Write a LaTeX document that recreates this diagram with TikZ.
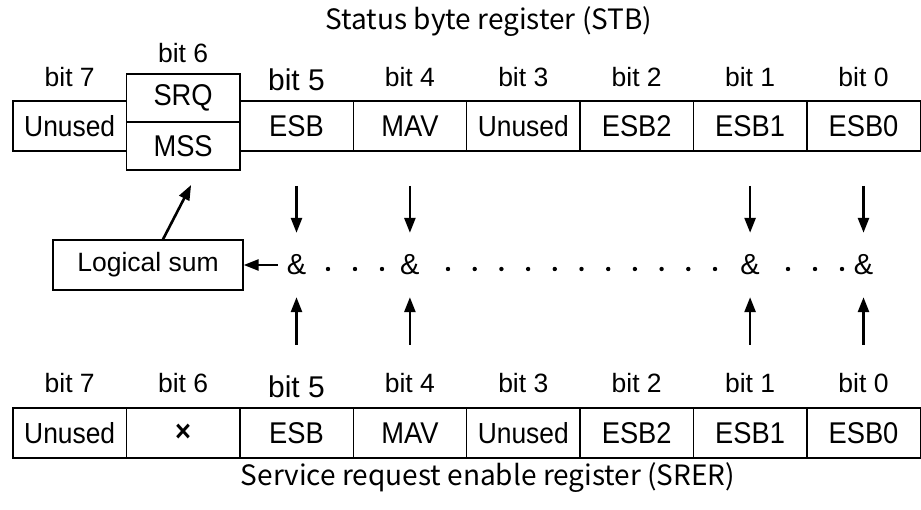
\documentclass[tikz,border=0pt]{standalone}
\usepackage{fontspec}
\setmainfont{Liberation Sans}
\newfontfamily\cellfont[FakeStretch=0.91]{Liberation Sans}
\newfontfamily\titlefont{Noto Sans CJK JP}
\usetikzlibrary{arrows.meta,positioning,calc}

\begin{document}
\begin{tikzpicture}[
  x=1pt, y=-1pt,
  font=\fontsize{26}{30}\selectfont,
  node distance=0pt,
  cell/.style={draw, line width=1.4pt, outer sep=0pt, inner sep=0pt, minimum width=113.4pt, minimum height=50pt, font=\cellfont\fontsize{30}{34}\selectfont},
  half/.style={cell, minimum height=48pt},
  sumbox/.style={draw, line width=1.4pt, inner sep=0pt, minimum width=190pt, minimum height=50pt, font=\fontsize{26.5}{30}\selectfont},
  bitlbl/.style={inner sep=0pt, font=\fontsize{26.5}{30}\selectfont},
  bigbit/.style={bitlbl, font=\fontsize{30}{34}\selectfont},
  amp/.style={inner xsep=9pt, inner ysep=0pt, minimum height=64pt, font=\fontsize{29}{32}\selectfont},
  arr/.style={line width=2.6pt, -{Triangle[length=15pt,width=11pt]}},
  title/.style={inner sep=0pt, font=\titlefont\fontsize{28}{32}\selectfont}
]
  \useasboundingbox (0,0) rectangle (921,510);

  % status byte register
  \node[title] (stbt) at (489,22) {Status byte register (STB)};
  \node[cell] (t7) at (69.7,126) {\fontsize{29}{34}\selectfont Unused};
  \node[half, anchor=south west] (srq) at ([yshift=4pt]t7.east) {SRQ};
  \node[half, anchor=north west] (mss) at (srq.south west) {MSS};
  \node[cell, anchor=west] (t5) at (t7.east -| srq.east) {ESB};
  \node[cell, right=of t5] (t4) {MAV};
  \node[cell, right=of t4] (t3) {\fontsize{29}{34}\selectfont Unused};
  \node[cell, right=of t3] (t2) {ESB2};
  \node[cell, right=of t2] (t1) {ESB1};
  \node[cell, right=of t1] (t0) {ESB0};

  \node[bitlbl] (tb7) at ([yshift=24pt]t7.north) {bit 7};
  \node[bitlbl] (tb6) at ([yshift=21pt]srq.north) {bit 6};
  \node[bigbit] (tb5) at ([yshift=21pt]t5.north) {bit 5};
  \node[bitlbl] (tb4) at ([yshift=24pt]t4.north) {bit 4};
  \node[bitlbl] (tb3) at ([yshift=24pt]t3.north) {bit 3};
  \node[bitlbl] (tb2) at ([yshift=24pt]t2.north) {bit 2};
  \node[bitlbl] (tb1) at ([yshift=24pt]t1.north) {bit 1};
  \node[bitlbl] (tb0) at ([yshift=24pt]t0.north) {bit 0};

  % service request enable register
  \node[cell] (r7) at (69.7,433) {\fontsize{29}{34}\selectfont Unused};
  \node[cell, right=of r7] (r6) {\bfseries ×};
  \node[cell, right=of r6] (r5) {ESB};
  \node[cell, right=of r5] (r4) {MAV};
  \node[cell, right=of r4] (r3) {\fontsize{29}{34}\selectfont Unused};
  \node[cell, right=of r3] (r2) {ESB2};
  \node[cell, right=of r2] (r1) {ESB1};
  \node[cell, right=of r1] (r0) {ESB0};
  \node[title] (srert) at (488,478) {Service request enable register (SRER)};

  \node[bitlbl] (rb7) at ([yshift=25pt]r7.north) {bit 7};
  \node[bitlbl] (rb6) at ([yshift=25pt]r6.north) {bit 6};
  \node[bigbit] (rb5) at ([yshift=21pt]r5.north) {bit 5};
  \node[bitlbl] (rb4) at ([yshift=25pt]r4.north) {bit 4};
  \node[bitlbl] (rb3) at ([yshift=25pt]r3.north) {bit 3};
  \node[bitlbl] (rb2) at ([yshift=25pt]r2.north) {bit 2};
  \node[bitlbl] (rb1) at ([yshift=25pt]r1.north) {bit 1};
  \node[bitlbl] (rb0) at ([yshift=25pt]r0.north) {bit 0};

  % logical product row
  \coordinate (androw) at (0,265);
  \node[sumbox] (lsum) at (148,265) {Logical sum};
  \node[amp] (a5) at (t5 |- androw) {\&};
  \node[amp] (a4) at (t4 |- androw) {\&};
  \node[amp] (a1) at (t1 |- androw) {\&};
  \node[amp] (a0) at (t0 |- androw) {\&};

  \foreach \x in {328,355,382,788,815,842}
    \fill (\x,269) circle (2.2pt);
  \foreach \i in {0,...,10}
    \fill (448+26.7*\i,269) circle (2.2pt);

  \foreach \b in {5,4,1,0} {
    \draw[arr] ([yshift=-35pt]t\b.south) -- (a\b);
    \draw[arr] ([yshift=63pt]r\b.north) -- (a\b);
  }
  \draw[arr] (a5) -- (lsum);
  \draw[arr] ([xshift=15pt]lsum.north) -- ([shift={(8pt,-15pt)}]mss.south);
\end{tikzpicture}
\end{document}
